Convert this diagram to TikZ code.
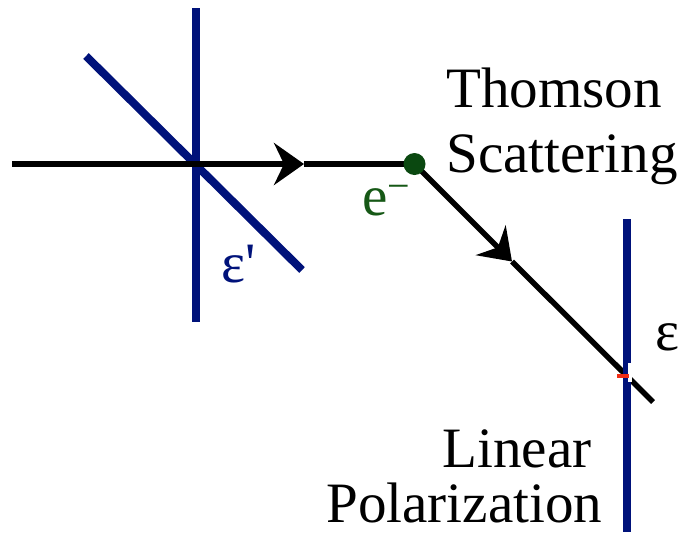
\documentclass[tikz,border=0pt]{standalone}
\usepackage{fontspec}
\setmainfont{Liberation Serif}
\usetikzlibrary{arrows.meta}
\definecolor{polblu}{RGB}{0,18,122}
\definecolor{verdepunto}{RGB}{10,72,16}
\definecolor{verdetesto}{RGB}{22,88,22}
\definecolor{rossotacca}{RGB}{240,45,20}
\begin{document}
\begin{tikzpicture}[x=0.02cm,y=-0.02cm,
    pol/.style={draw=polblu,line width=0.16cm},
    raggio/.style={draw=black,line width=0.11cm},
    punta/.style={-{Stealth[length=0.6cm,width=0.84cm,inset=0.2cm]}},
    etichetta/.style={font=\fontsize{32.5}{38}\selectfont,inner sep=0pt}]
        \useasboundingbox (0,0) rectangle (679,532);
        %polarizzazione incidente
        \draw[pol] (195.5,8) -- (195.5,322);
        \draw[pol] (86,56) -- (302,270);
        %raggio
        \coordinate (inizio) at (12,164);
        \coordinate (p1) at (304,164);
        \coordinate (urto) at (414.5,164);
        \coordinate (p2) at (512,261.5);
        \coordinate (fine) at (653,402);
        \draw[raggio,punta] (inizio) -- (p1);
        \draw[raggio] (p1) -- (urto);
        \draw[raggio,punta] (urto) -- (p2);
        \draw[raggio] (p2) -- (fine);
        \node[circle,fill=verdepunto,inner sep=0pt,minimum size=0.44cm] (el) at (urto) {};
        %polarizzazione lineare
        \draw[pol] (626.5,219) -- (626.5,532);
        \fill[white] (628,363) rectangle (632,382);
        \fill[rossotacca] (617,374) rectangle (629,378);
        %testi
        \node[etichetta,anchor=base west] (thomson) at (446,107) {Thomson};
        \node[etichetta,anchor=base west] (scatt) at (446,172) {Scattering};
        \node[etichetta,anchor=base west] (lin) at (442,467) {Linear};
        \node[etichetta,anchor=base west] (polar) at (326,522) {Polarization};
        \node[etichetta,anchor=base west,text=verdetesto] (elet) at (362,215) {e\textsuperscript{\textminus}};
        \node[etichetta,anchor=base west,text=polblu] (epsi1) at (221,282) {ε\textquotesingle};
        \node[etichetta,anchor=base west] (epsi2) at (655,350) {ε};
    \end{tikzpicture}
\end{document}
